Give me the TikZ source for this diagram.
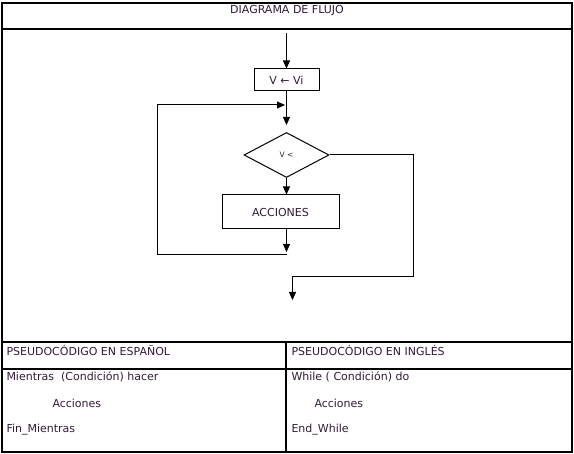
\documentclass[tikz,border=0pt]{standalone}
\usepackage{fontspec}
\setmainfont{DejaVu Sans}
\usetikzlibrary{arrows.meta,shapes.geometric}
\definecolor{tinta}{rgb}{0.20,0.10,0.22}

\begin{document}
\begin{tikzpicture}[x=1pt,y=-1pt,line width=1pt,
  flecha/.style={-{Triangle[length=8pt,width=7pt]}},
  marco/.style={line width=1.3pt},
  caja/.style={draw,inner sep=0pt},
  texto/.style={font=\fontsize{11}{13}\selectfont,text=tinta,inner sep=0pt}]
			\useasboundingbox (0,0) rectangle (574,454);
			% tabla
			\draw[marco] (2,3) rectangle (572,452);
			\draw[marco] (2,29) -- (572,29);
			\draw[marco] (2,342) -- (572,342);
			\draw[marco] (2,369) -- (572,369);
			\draw[marco] (286,342) -- (286,452);
			
			\node[texto] (titulo) at (287,11) {DIAGRAMA DE FLUJO};
			\node[texto,anchor=west] (esp) at (6,350) {PSEUDOCÓDIGO EN ESPAÑOL};
			\node[texto,anchor=west] (ing) at (291,350) {PSEUDOCÓDIGO EN INGLÉS};
			\node[texto,anchor=west] (mientras) at (6,377) {Mientras\ \ (Condición) hacer};
			\node[texto,anchor=west] (acc1) at (52,403) {Acciones};
			\node[texto,anchor=west] (fin) at (6,430) {Fin\_Mientras};
			\node[texto,anchor=west] (while) at (291,377) {While ( Condición) do};
			\node[texto,anchor=west] (acc2) at (314,403) {Acciones};
			\node[texto,anchor=west] (end) at (291,430) {End\_While};
			
			% diagrama
			\node[caja,texto,minimum width=65pt,minimum height=22pt] (vi) at (286.5,80) {V ← Vi};
			\node[caja,diamond,minimum width=85pt,minimum height=45pt,texto,font=\fontsize{7.5}{9}\selectfont] (dec) at (286.5,155) {V <\hspace{8pt}};
			\node[caja,texto,minimum width=117pt,minimum height=34pt] (acc) at (280.5,212) {ACCIONES};
			
			\coordinate (ini) at (286.5,33);
			\coordinate (entra) at (286.5,125);
			\coordinate (finacc) at (286.5,252);
			\coordinate (ret) at (286.5,255);
			\coordinate (izq) at (157,255);
			\coordinate (une) at (285,105);
			\coordinate (derecha) at (413,277);
			\coordinate (salida) at (292.5,300);
			
			\draw[flecha] (ini) -- (vi.north);
			\draw[flecha] (vi.south) -- (entra);
			\draw[flecha] (izq -| ret) -- (izq) |- (une);
			\draw[flecha] (dec.south) -- (dec.south |- acc.north);
			\draw[flecha] (acc.south -| finacc) -- (finacc);
			\draw[flecha] (dec.east) -| (derecha) -| (salida);
			\end{tikzpicture}
\end{document}
